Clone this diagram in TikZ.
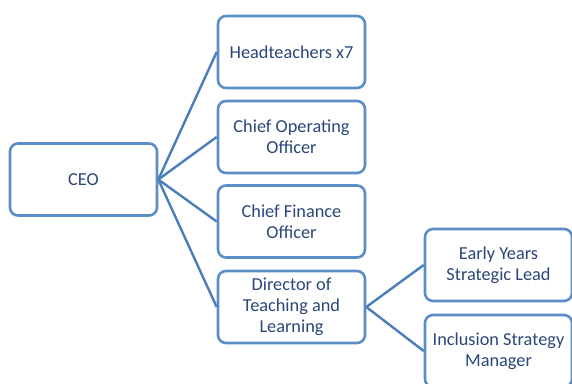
\documentclass[tikz,border=0pt]{standalone}
\usepackage{fontspec}
\setmainfont{Carlito}
\begin{document}
\definecolor{boxline}{HTML}{5B8DC8}
\definecolor{linkline}{HTML}{4A7EBB}
\definecolor{txt}{HTML}{2B4779}
\begin{tikzpicture}[x=1pt,y=-1pt,
  role/.style={draw=boxline, line width=2.6pt, rounded corners=8pt, fill=white,
    minimum width=147pt, minimum height=72pt, align=center, text=txt,
    font=\fontsize{18.3}{21}\selectfont, inner sep=2pt},
  link/.style={draw=linkline, line width=2.4pt}]
\useasboundingbox (0,0) rectangle (572,383);
\clip (0,0) rectangle (572,383);
\node[role] (ceo) at (83.5,179.5) {CEO};
\node[role] (head) at (291.5,52) {Headteachers x7};
\node[role] (coo) at (291.5,137) {Chief Operating\\Officer};
\node[role] (cfo) at (291.5,221.5) {Chief Finance\\Officer};
\node[role] (dtl) at (291.5,307) {Director of\\Teaching and\\Learning};
\node[role] (eyl) at (498.5,265) {Early Years\\Strategic Lead};
\node[role] (ism) at (498.5,351) {Inclusion Strategy\\Manager};
\foreach \t in {head,coo,cfo,dtl}
  \draw[link] (ceo.east) -- (\t.west);
\foreach \t in {eyl,ism}
  \draw[link] (dtl.east) -- (\t.west);
\end{tikzpicture}
\end{document}
